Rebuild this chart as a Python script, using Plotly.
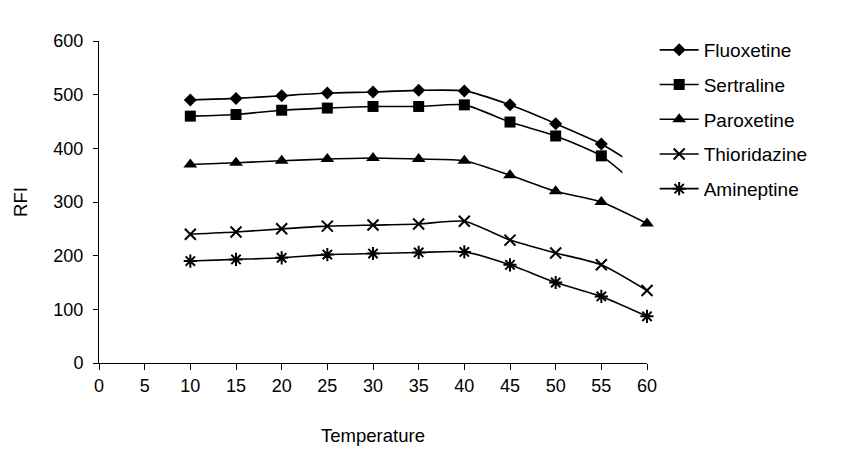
import plotly.graph_objects as go

temperature = [10, 15, 20, 25, 30, 35, 40, 45, 50, 55, 60]
fluoxetine = [490, 493, 498, 503, 505, 508, 507, 481, 446, 408, 355]
sertraline = [460, 463, 471, 475, 478, 478, 481, 449, 423, 386, 315]
paroxetine = [370, 373, 377, 380, 382, 380, 377, 350, 320, 300, 260]
thioridazine = [240, 244, 250, 255, 257, 259, 264, 229, 205, 183, 135]
amineptine = [190, 193, 196, 202, 204, 206, 207, 183, 150, 124, 87]

x_ticks = [0, 5, 10, 15, 20, 25, 30, 35, 40, 45, 50, 55, 60]
y_ticks = [0, 100, 200, 300, 400, 500, 600]

series = [
    ("Fluoxetine", fluoxetine, dict(symbol="diamond", size=10), True),
    ("Sertraline", sertraline, dict(symbol="square", size=11), True),
    ("Paroxetine", paroxetine, dict(symbol="triangle-up", size=12), False),
    ("Thioridazine", thioridazine, dict(symbol="x-thin-open", size=11, line=dict(width=2, color="black")), False),
    ("Amineptine", amineptine, dict(symbol="asterisk-open", size=11, line=dict(width=2, color="black")), False),
]

fig = go.Figure()
for name, vals, mk, clip in series:
    mk = dict(mk)
    mk.setdefault("color", "black")
    fig.add_trace(go.Scatter(
        x=temperature, y=vals, name=name, legendgroup=name, mode="lines+markers",
        line=dict(color="black", width=1.6, shape="spline", smoothing=0.6),
        marker=mk, cliponaxis=clip,
    ))

# white mask: the legend area of the original hides the tail of the top two curves
fig.add_shape(type="rect", xref="x", yref="y", x0=57.3, x1=75, y0=298, y1=640,
              fillcolor="white", line=dict(width=0), layer="above")

font = "Liberation Sans, Arial, sans-serif"
fig.update_layout(
    width=839, height=452,
    margin=dict(l=91, r=200, t=33, b=97),
    paper_bgcolor="white", plot_bgcolor="white",
    font=dict(family=font, size=18, color="black"),
    showlegend=True,
    legend=dict(
        x=1.014, xanchor="left", y=1.031, yanchor="top",
        bgcolor="rgba(0,0,0,0)", borderwidth=0,
        font=dict(family=font, size=19, color="black"),
        tracegroupgap=7, itemwidth=39,
    ),
    xaxis=dict(
        range=[0, 60], tickvals=x_ticks, ticks="outside", ticklen=6,
        tickcolor="black", showline=True, linecolor="black", linewidth=1,
        showgrid=False, zeroline=False, tickfont=dict(size=18),
        title=dict(text="Temperature", font=dict(size=18.5), standoff=34),
    ),
    yaxis=dict(
        range=[0, 600], tickvals=y_ticks, ticks="outside", ticklen=5,
        tickcolor="black", showline=True, linecolor="black", linewidth=1,
        showgrid=False, zeroline=False, tickfont=dict(size=18),
        ticklabelstandoff=6,
        title=dict(text="RFI", font=dict(size=18.5), standoff=20),
    ),
)

fig.write_html("out.html")
